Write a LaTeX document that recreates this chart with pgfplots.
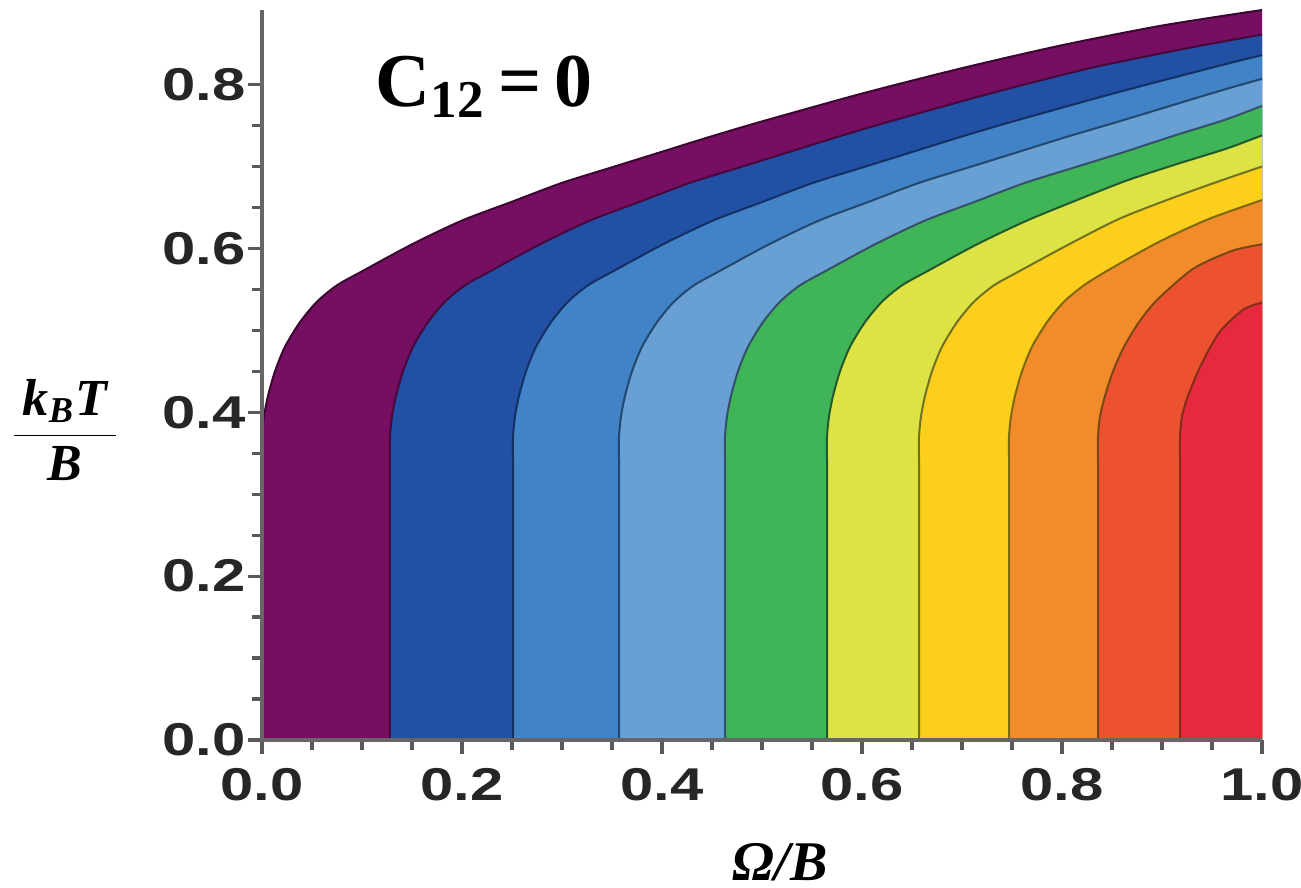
\documentclass[border=0pt]{standalone}
\usepackage{pgfplots}
\usepackage{pgfplotstable}
\pgfplotsset{compat=1.18}
\usepackage{fontspec}
\setmainfont{Liberation Serif}
\newfontfamily\tickfont{Liberation Sans}[FakeStretch=1.3]

\definecolor{cA}{RGB}{118,14,98}
\definecolor{cB}{RGB}{34,80,165}
\definecolor{cC}{RGB}{66,130,198}
\definecolor{cD}{RGB}{105,160,212}
\definecolor{cE}{RGB}{63,181,88}
\definecolor{cF}{RGB}{221,227,68}
\definecolor{cG}{RGB}{251,207,28}
\definecolor{cH}{RGB}{242,140,42}
\definecolor{cI}{RGB}{236,82,48}
\definecolor{cJ}{RGB}{230,41,61}

\pgfplotstableread{
x y
0 0
0 0.25
0 0.31
0 0.34
0 0.37
0.002 0.395
0.006 0.42
0.013 0.45
0.023 0.48
0.038 0.51
0.055 0.535
0.075 0.555
0.10 0.572
0.15 0.605
0.20 0.634
0.25 0.657
0.30 0.680
0.35 0.699
0.40 0.718
0.45 0.737
0.50 0.755
0.60 0.789
0.70 0.820
0.80 0.848
0.90 0.872
1.00 0.891
}\tA
\pgfplotstableread{
x y
0.128 0
0.128 0.25
0.128 0.31
0.128 0.34
0.128 0.37
0.130 0.395
0.134 0.42
0.141 0.45
0.151 0.48
0.166 0.51
0.183 0.535
0.203 0.555
0.228 0.572
0.278 0.605
0.328 0.634
0.378 0.657
0.428 0.680
0.478 0.699
0.528 0.718
0.578 0.737
0.628 0.755
0.728 0.789
0.828 0.820
0.928 0.845
1.000 0.861
}\tB
\pgfplotstableread{
x y
0.251 0
0.251 0.25
0.251 0.31
0.251 0.34
0.251 0.37
0.253 0.395
0.257 0.42
0.264 0.45
0.274 0.48
0.289 0.51
0.306 0.535
0.326 0.555
0.351 0.572
0.401 0.605
0.451 0.634
0.501 0.657
0.551 0.680
0.601 0.699
0.651 0.718
0.701 0.737
0.751 0.755
0.851 0.789
0.951 0.821
1.000 0.836
}\tC
\pgfplotstableread{
x y
0.357 0
0.357 0.25
0.357 0.31
0.357 0.34
0.357 0.37
0.359 0.395
0.363 0.42
0.370 0.45
0.380 0.48
0.395 0.51
0.412 0.535
0.432 0.555
0.457 0.572
0.507 0.605
0.557 0.634
0.607 0.657
0.657 0.680
0.707 0.699
0.757 0.718
0.807 0.737
0.857 0.755
0.957 0.792
1.000 0.807
}\tD
\pgfplotstableread{
x y
0.463 0
0.463 0.25
0.463 0.31
0.463 0.34
0.463 0.37
0.465 0.395
0.469 0.42
0.476 0.45
0.486 0.48
0.501 0.51
0.518 0.535
0.538 0.555
0.563 0.572
0.613 0.605
0.663 0.634
0.713 0.657
0.763 0.680
0.813 0.699
0.863 0.718
0.913 0.738
0.963 0.757
1.000 0.774
}\tE
\pgfplotstableread{
x y
0.565 0
0.565 0.25
0.565 0.31
0.565 0.34
0.565 0.37
0.567 0.395
0.571 0.42
0.578 0.45
0.588 0.48
0.603 0.51
0.620 0.535
0.640 0.555
0.665 0.572
0.715 0.605
0.765 0.634
0.815 0.659
0.865 0.683
0.915 0.703
0.965 0.722
1.000 0.738
}\tF
\pgfplotstableread{
x y
0.657 0
0.657 0.25
0.657 0.31
0.657 0.34
0.657 0.37
0.659 0.395
0.663 0.42
0.670 0.45
0.680 0.48
0.695 0.51
0.712 0.535
0.732 0.555
0.757 0.572
0.807 0.605
0.857 0.636
0.907 0.660
0.957 0.682
1.000 0.700
}\tG
\pgfplotstableread{
x y
0.747 0
0.747 0.25
0.747 0.31
0.747 0.34
0.747 0.37
0.749 0.395
0.753 0.42
0.760 0.45
0.770 0.48
0.785 0.51
0.802 0.535
0.822 0.555
0.847 0.574
0.897 0.608
0.947 0.636
1.000 0.659
}\tH
\pgfplotstableread{
x y
0.836 0
0.836 0.25
0.836 0.31
0.836 0.34
0.836 0.37
0.838 0.395
0.843 0.42
0.851 0.45
0.862 0.48
0.877 0.51
0.895 0.537
0.931 0.575
0.970 0.597
1.000 0.605
}\tI
\pgfplotstableread{
x y
0.918 0
0.918 0.25
0.918 0.31
0.918 0.34
0.918 0.37
0.920 0.395
0.926 0.42
0.938 0.455
0.957 0.497
0.981 0.525
1.000 0.534
}\tJ

\begin{document}
\begin{tikzpicture}
\begin{axis}[
  scale only axis,
  width=250pt, height=182.5pt,
  xmin=0, xmax=1, ymin=0, ymax=0.891,
  clip=false,
  axis line style={draw=none},
  xtick pos=bottom, ytick pos=left,
  tick align=outside,
  major tick length=3.5pt, minor tick length=2.5pt,
  tick style={black!65, line width=0.8pt},
  xtick={0,0.2,0.4,0.6,0.8,1.0},
  ytick={0,0.2,0.4,0.6,0.8},
  minor x tick num=3, minor y tick num=3,
  ticklabel style={font=\fontsize{11.5}{13}\selectfont\tickfont\bfseries, text=black!85},
  yticklabel style={xshift=3pt},
  /pgf/number format/.cd, fixed, fixed zerofill, precision=1, assume math mode=true,
  /pgfplots/.cd,
  xlabel={\fontsize{14}{16}\selectfont\bfseries\itshape Ω/B},
  xlabel style={at={(axis description cs:0.518,-0.167)}, anchor=center},
  ylabel={\fontsize{13}{15}\selectfont$\displaystyle{\hbox{\,\bfseries\itshape k\textsubscript{B}T\,}\over\hbox{\bfseries\itshape B}}$},
  ylabel style={at={(axis description cs:-0.197,0.425)}, rotate=-90, anchor=center},
  every axis plot/.append style={smooth, tension=0.45},
]
\coordinate (bbA) at (axis description cs:-0.262,-0.2014);
\coordinate (bbB) at (axis description cs:1.039,1.0137);
\addplot[fill=cA, draw=none] table {\tA} \closedcycle;
\addplot[fill=cB, draw=none] table {\tB} \closedcycle;
\addplot[fill=cC, draw=none] table {\tC} \closedcycle;
\addplot[fill=cD, draw=none] table {\tD} \closedcycle;
\addplot[fill=cE, draw=none] table {\tE} \closedcycle;
\addplot[fill=cF, draw=none] table {\tF} \closedcycle;
\addplot[fill=cG, draw=none] table {\tG} \closedcycle;
\addplot[fill=cH, draw=none] table {\tH} \closedcycle;
\addplot[fill=cI, draw=none] table {\tI} \closedcycle;
\addplot[fill=cJ, draw=none] table {\tJ} \closedcycle;
\addplot[draw=cA!50!black, line width=0.5pt] table {\tA};
\addplot[draw=cA!60!black, line width=0.5pt] table {\tB};
\addplot[draw=cB!60!black, line width=0.5pt] table {\tC};
\addplot[draw=cC!55!black, line width=0.5pt] table {\tD};
\addplot[draw=cD!50!black, line width=0.5pt] table {\tE};
\addplot[draw=cE!50!black, line width=0.5pt] table {\tF};
\addplot[draw=cF!50!black, line width=0.5pt] table {\tG};
\addplot[draw=cG!50!black, line width=0.5pt] table {\tH};
\addplot[draw=cH!50!black, line width=0.5pt] table {\tI};
\addplot[draw=cI!55!black, line width=0.5pt] table {\tJ};
\draw[black!60, line width=1pt] (rel axis cs:0,1) -- (rel axis cs:0,0) -- (rel axis cs:1,0);
\node[font=\fontsize{19}{22}\selectfont\bfseries] at (axis cs:0.222,0.797) {C\textsubscript{12}\,=\,0};
\end{axis}
\pgfresetboundingbox
\path[use as bounding box] (bbA) rectangle (bbB);
\end{tikzpicture}
\end{document}
